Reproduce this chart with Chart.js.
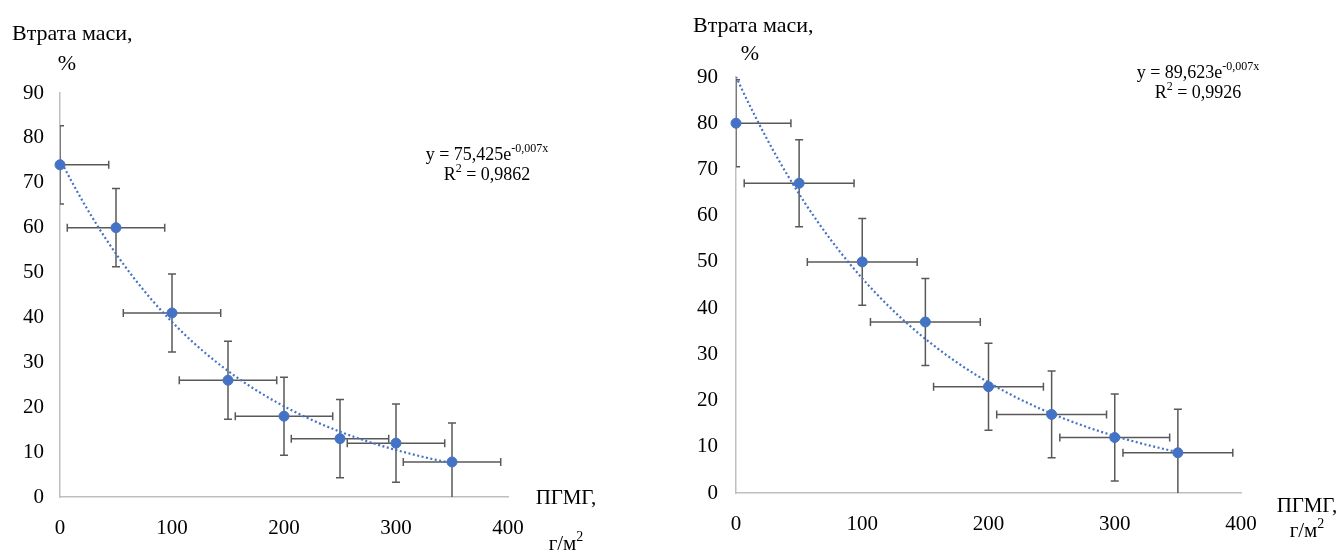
<!DOCTYPE html>
<html>
<head>
<meta charset="utf-8">
<script src="https://cdn.jsdelivr.net/npm/chart.js@4.4.1/dist/chart.umd.min.js"></script>
<style>
  html, body { margin: 0; padding: 0; background: #fff; }
  .wrap { position: absolute; top: 0; width: 671px; height: 552px; }
  #wrapLeft { left: 0; }
  #wrapRight { left: 672px; }
</style>
</head>
<body>
<div class="wrap" id="wrapLeft"><canvas id="chartLeft"></canvas></div>
<div class="wrap" id="wrapRight"><canvas id="chartRight"></canvas></div>
<script>
// доза ПГМГ, г/м2
const doses = [0, 50, 100, 150, 200, 250, 300, 350];
// втрата маси, %
const lossLeft = [74, 60, 41, 26, 18, 13, 12, 7.8];
const lossRight = [80, 67, 50, 37, 23, 17, 12, 8.7];
// похибки
const errYLeft = [8.7, 8.7, 8.7, 8.7, 8.7, 8.7, 8.7, 8.7];
const errYRight = [9.4, 9.4, 9.4, 9.4, 9.4, 9.4, 9.4, 9.4];
const errX = [43.5, 43.5, 43.5, 43.5, 43.5, 43.5, 43.5, 43.5];
// осі
const xTicks = [0, 100, 200, 300, 400];
const yTicks = [0, 10, 20, 30, 40, 50, 60, 70, 80, 90];

const BLUE = "#4472C4";
const SERIF = "'Liberation Serif', 'Times New Roman', serif";

// експоненційний тренд методом найменших квадратів (ln y = ln a + b x)
function expFit(xs, ys) {
    const n = xs.length;
    const ly = ys.map(Math.log);
    const mx = xs.reduce((s, v) => s + v, 0) / n;
    const my = ly.reduce((s, v) => s + v, 0) / n;
    let sxy = 0, sxx = 0;
    xs.forEach((x, i) => {
        sxy += (x - mx) * (ly[i] - my);
        sxx += (x - mx) * (x - mx);
    });
    const b = sxy / sxx;
    return { a: Math.exp(my - b * mx), b: b };
}

function trendPoints(xs, ys) {
    const f = expFit(xs, ys);
    const pts = [];
    const last = xs[xs.length - 1];
    for (let x = xs[0]; x <= last; x += 5) {
        pts.push({ x: x, y: f.a * Math.exp(f.b * x) });
    }
    return pts;
}

// текст з верхніми індексами, вирівняний по центру
function drawRich(ctx, parts, cx, cy, size) {
    const supSize = Math.round(size * 0.66);
    let total = 0;
    parts.forEach(p => {
        ctx.font = (p.sup ? supSize : size) + "px " + SERIF;
        p.w = ctx.measureText(p.t).width;
        total += p.w;
    });
    let x = cx - total / 2;
    ctx.textAlign = "left";
    ctx.textBaseline = "middle";
    parts.forEach(p => {
        ctx.font = (p.sup ? supSize : size) + "px " + SERIF;
        ctx.fillText(p.t, x, p.sup ? cy - size * 0.32 : cy);
        x += p.w;
    });
}

const errorBarsAndLabels = {
    id: "errorBarsAndLabels",
    beforeDatasetsDraw(chart, args, opts) {
        const ctx = chart.ctx;
        const xs = chart.scales.x, ys = chart.scales.y;
        const area = chart.chartArea;
        const cap = 4;
        ctx.save();
        ctx.beginPath();
        ctx.rect(area.left, area.top - 1, area.right - area.left, area.bottom - area.top + 1);
        ctx.clip();
        ctx.strokeStyle = "#595959";
        ctx.lineWidth = 1.5;
        opts.values.forEach((v, i) => {
            const px = xs.getPixelForValue(doses[i]);
            const py = ys.getPixelForValue(v);
            const y1 = ys.getPixelForValue(v + opts.errY[i]);
            const y2 = ys.getPixelForValue(v - opts.errY[i]);
            const x1 = xs.getPixelForValue(doses[i] - errX[i]);
            const x2 = xs.getPixelForValue(doses[i] + errX[i]);
            ctx.beginPath();
            ctx.moveTo(px, y1); ctx.lineTo(px, y2);
            ctx.moveTo(px - cap, y1); ctx.lineTo(px + cap, y1);
            ctx.moveTo(px - cap, y2); ctx.lineTo(px + cap, y2);
            ctx.moveTo(x1, py); ctx.lineTo(x2, py);
            ctx.moveTo(x1, py - cap); ctx.lineTo(x1, py + cap);
            ctx.moveTo(x2, py - cap); ctx.lineTo(x2, py + cap);
            ctx.stroke();
        });
        ctx.restore();
    },
    afterDraw(chart, args, opts) {
        const ctx = chart.ctx;
        const area = chart.chartArea;
        const t = opts.text;
        ctx.save();
        ctx.fillStyle = "#000";
        ctx.font = "22px " + SERIF;
        ctx.textBaseline = "middle";
        ctx.textAlign = "left";
        ctx.fillText("Втрата маси,", area.left + t.titleDx, area.top + t.titleDy);
        ctx.textAlign = "center";
        ctx.fillText("%", area.left + t.pctDx, area.top + t.pctDy);
        ctx.font = "21px " + SERIF;
        ctx.fillText("ПГМГ,", area.right + t.unitDx, area.bottom + t.unitDy);
        drawRich(ctx, [{ t: "г/м" }, { t: "2", sup: true }],
            area.right + t.unitDx, area.bottom + t.unit2Dy, 21);
        drawRich(ctx, [{ t: "y = " + opts.coef + "e" }, { t: "-0,007x", sup: true }],
            area.right + t.eqDx, area.top + t.eqDy, 18);
        drawRich(ctx, [{ t: "R" }, { t: "2", sup: true }, { t: " = " + opts.r2 }],
            area.right + t.eqDx, area.top + t.eqDy + 20, 18);
        ctx.restore();
    }
};

function makeChart(id, values, errY, coef, r2, box) {
    const ctx = document.getElementById(id).getContext("2d");
    const axisFont = { family: SERIF, size: 21 };
    return new Chart(ctx, {
        type: "scatter",
        data: {
            datasets: [
                {
                    data: doses.map((d, i) => ({ x: d, y: values[i] })),
                    backgroundColor: BLUE,
                    borderColor: BLUE,
                    pointRadius: 5,
                    pointHoverRadius: 5,
                    clip: false,
                    order: 0
                },
                {
                    type: "line",
                    data: trendPoints(doses, values),
                    borderColor: BLUE,
                    borderWidth: 2.2,
                    borderDash: [2, 2.5],
                    pointRadius: 0,
                    fill: false,
                    order: 1
                }
            ]
        },
        options: {
            responsive: false,
            animation: false,
            events: [],
            layout: { padding: { left: 0, top: box.top, right: box.right, bottom: 0 } },
            plugins: {
                legend: { display: false },
                tooltip: { enabled: false },
                errorBarsAndLabels: { values: values, errY: errY, coef: coef, r2: r2, text: box.text }
            },
            scales: {
                x: {
                    type: "linear",
                    min: 0,
                    max: 400,
                    afterBuildTicks: s => { s.ticks = xTicks.map(v => ({ value: v })); },
                    afterFit: s => { s.height = box.xAxisH; },
                    grid: { display: false, drawTicks: false },
                    border: { display: true, color: "#bfbfbf", width: 1.5 },
                    ticks: { font: axisFont, color: "#000", padding: box.xPad, maxRotation: 0, autoSkip: false }
                },
                y: {
                    type: "linear",
                    min: 0,
                    max: 90,
                    afterBuildTicks: s => { s.ticks = yTicks.map(v => ({ value: v })); },
                    afterFit: s => { s.width = box.yAxisW; },
                    grid: { display: false, drawTicks: false },
                    border: { display: true, color: "#bfbfbf", width: 1.5 },
                    ticks: { font: axisFont, color: "#000", padding: box.yPad, autoSkip: false }
                }
            }
        },
        plugins: [errorBarsAndLabels]
    });
}

function sizeCanvas(id) {
    const c = document.getElementById(id);
    c.width = 671;
    c.height = 552;
    c.style.width = "671px";
    c.style.height = "552px";
}

sizeCanvas("chartLeft");
sizeCanvas("chartRight");

makeChart("chartLeft", lossLeft, errYLeft, "75,425", "0,9862", {
    top: 93, right: 163, yAxisW: 60, xAxisH: 55, yPad: 16, xPad: 19,
    text: { titleDx: -48, titleDy: -59, pctDx: 7, pctDy: -29,
            unitDx: 58, unitDy: 1, unit2Dy: 47, eqDx: -21, eqDy: 62 }
});

makeChart("chartRight", lossRight, errYRight, "89,623", "0,9926", {
    top: 77, right: 102, yAxisW: 64, xAxisH: 59, yPad: 18, xPad: 19,
    text: { titleDx: -43, titleDy: -51, pctDx: 14, pctDy: -23,
            unitDx: 66, unitDy: 13, unit2Dy: 38, eqDx: -43, eqDy: -4 }
});
</script>
</body>
</html>
